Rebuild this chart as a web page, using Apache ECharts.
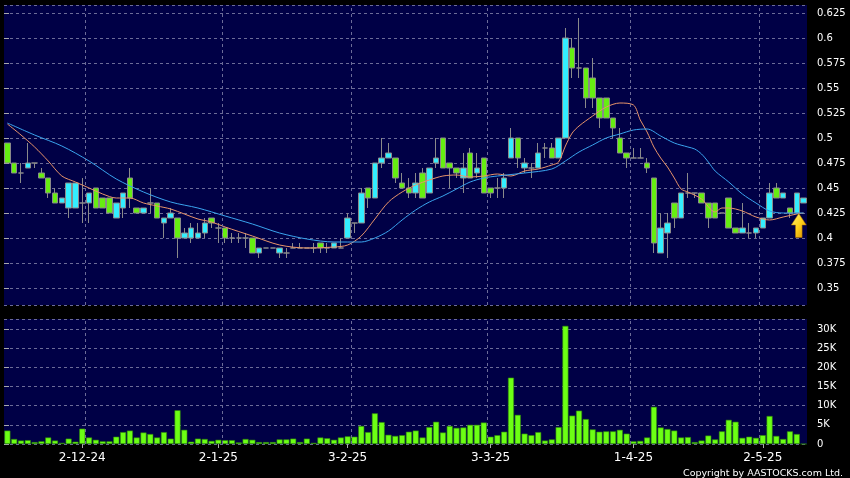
<!DOCTYPE html>
<html><head><meta charset="utf-8">
<script src="https://cdn.jsdelivr.net/npm/echarts@6/dist/echarts.min.js"></script>
<style>html,body{margin:0;padding:0;background:#000;}#c{width:850px;height:478px;}</style>
</head><body><div id="c"></div>
<script>
const dates = [
'14-11-24','15-11-24','18-11-24','19-11-24','20-11-24','21-11-24','22-11-24','25-11-24','26-11-24','27-11-24','28-11-24','29-11-24',
'2-12-24','3-12-24','4-12-24','5-12-24','6-12-24','9-12-24','10-12-24','11-12-24','12-12-24','13-12-24','16-12-24','17-12-24','18-12-24','19-12-24','20-12-24','23-12-24','24-12-24','27-12-24','30-12-24','31-12-24',
'2-1-25','3-1-25','6-1-25','7-1-25','8-1-25','9-1-25','10-1-25','13-1-25','14-1-25','15-1-25','16-1-25','17-1-25','20-1-25','21-1-25','22-1-25','23-1-25','24-1-25','27-1-25','28-1-25',
'3-2-25','4-2-25','5-2-25','6-2-25','7-2-25','10-2-25','11-2-25','12-2-25','13-2-25','14-2-25','17-2-25','18-2-25','19-2-25','20-2-25','21-2-25','24-2-25','25-2-25','26-2-25','27-2-25','28-2-25',
'3-3-25','4-3-25','5-3-25','6-3-25','7-3-25','10-3-25','11-3-25','12-3-25','13-3-25','14-3-25','17-3-25','18-3-25','19-3-25','20-3-25','21-3-25','24-3-25','25-3-25','26-3-25','27-3-25','28-3-25','31-3-25',
'1-4-25','2-4-25','3-4-25','7-4-25','8-4-25','9-4-25','10-4-25','11-4-25','14-4-25','15-4-25','16-4-25','17-4-25','22-4-25','23-4-25','24-4-25','25-4-25','28-4-25','29-4-25','30-4-25',
'2-5-25','6-5-25','7-5-25','8-5-25','9-5-25','12-5-25','13-5-25'];

const openP = [
.495,.475,.465,.47,.475,.465,.46,.445,.435,.43,
.43,.435,.435,.45,.44,.44,.42,.43,.46,.43,
.425,.435,.435,.415,.42,.42,.40,.40,.40,.405,
.42,.41,.41,.40,.40,.40,.40,.385,.39,.39,
.385,.385,.39,.39,.39,.39,.395,.39,.39,.39,
.40,.415,.415,.45,.44,.475,.48,.48,.455,.45,
.445,.465,.445,.475,.50,.475,.47,.46,.485,.465,
.48,.45,.45,.45,.48,.50,.47,.47,.47,.49,
.49,.48,.50,.59,.57,.57,.56,.54,.54,.52,
.50,.485,.48,.48,.475,.46,.385,.405,.435,.42,
.445,.445,.445,.435,.435,.425,.44,.41,.405,.405,
.405,.41,.42,.45,.44,.43,.425,.435];
const closeP = [
.475,.465,.465,.475,.475,.46,.445,.435,.44,.455,
.455,.435,.445,.43,.43,.425,.435,.445,.44,.425,
.43,.435,.42,.42,.425,.40,.405,.41,.405,.415,
.415,.41,.40,.40,.40,.40,.385,.39,.39,.39,
.39,.385,.39,.39,.39,.39,.39,.39,.395,.39,
.42,.415,.445,.44,.475,.48,.485,.46,.45,.445,
.455,.44,.47,.48,.47,.47,.465,.47,.46,.47,
.445,.445,.45,.46,.50,.48,.475,.47,.485,.49,
.48,.50,.60,.57,.57,.54,.54,.52,.52,.51,
.485,.48,.48,.48,.47,.395,.41,.415,.42,.445,
.445,.445,.435,.42,.42,.425,.41,.405,.41,.405,
.41,.42,.445,.44,.445,.425,.445,.44];
const lowP = [
.475,.465,.455,.47,.47,.46,.44,.435,.435,.42,
.43,.415,.415,.43,.43,.425,.42,.42,.43,.425,
.425,.425,.42,.40,.42,.38,.40,.395,.40,.40,
.41,.395,.395,.395,.395,.39,.385,.38,.39,.39,
.38,.38,.39,.39,.39,.385,.385,.385,.39,.39,
.40,.405,.415,.43,.44,.47,.48,.455,.45,.44,
.44,.44,.445,.47,.47,.45,.46,.445,.46,.46,
.445,.44,.44,.44,.48,.47,.465,.46,.47,.48,
.48,.48,.50,.56,.56,.53,.53,.51,.52,.50,
.485,.47,.48,.48,.465,.385,.385,.38,.41,.42,
.44,.44,.435,.41,.42,.425,.41,.405,.405,.40,
.40,.41,.42,.44,.44,.42,.425,.435];
const highP = [
.495,.475,.475,.495,.475,.47,.46,.45,.44,.455,
.455,.46,.445,.45,.44,.44,.435,.445,.47,.43,
.43,.45,.435,.42,.43,.42,.41,.415,.415,.42,
.42,.415,.41,.405,.405,.405,.40,.39,.39,.39,
.39,.39,.395,.395,.39,.395,.395,.395,.395,.40,
.425,.415,.45,.45,.475,.50,.495,.48,.465,.46,
.465,.47,.47,.50,.50,.475,.47,.485,.49,.485,
.48,.45,.46,.465,.51,.50,.48,.475,.495,.495,
.495,.50,.61,.60,.62,.57,.58,.54,.54,.52,
.51,.485,.49,.49,.48,.46,.425,.425,.435,.445,
.465,.445,.445,.435,.435,.425,.44,.41,.435,.415,
.41,.42,.455,.455,.445,.43,.445,.44];
const volume = [
3500,1300,900,1000,500,700,1700,900,300,1400,
600,4000,1700,1100,700,700,1900,3100,3500,1700,
3000,2600,1700,3100,1400,8800,3700,600,1400,1300,
800,1100,1000,1000,400,1300,1100,500,500,500,
1200,1200,1400,500,1400,300,1700,1500,1100,1700,
2000,1900,4700,3100,8000,5700,2400,2100,2300,3200,
3500,1700,4400,5800,3000,4700,4200,4300,5000,5000,
5600,1900,2300,3200,17300,7600,2700,2300,3100,900,
1200,4400,30800,7400,8700,6500,3800,3200,3300,3300,
3700,2700,700,800,1700,9700,4300,3900,3500,1700,
1800,500,900,2200,1200,3300,6300,5800,1600,1900,
1600,2300,7300,2100,1300,3300,2600,0];
// moving averages: [day index, value]
const maShort = [[0,.514],[2,.503],[4,.491],[6,.477],[8,.462],[10,.456],[12,.450],[14,.444],[16,.440],[18,.440],[20,.435],[22,.432],[24,.429],[26,.424],[28,.419],[30,.416],[32,.411],[36,.402],[40,.393],[44,.390],[48,.391],[50,.393],[52,.402],[54,.419],[56,.436],[58,.446],[60,.453],[62,.458],[64,.462],[66,.463],[68,.461],[70,.462],[72,.464],[74,.462],[76,.467],[78,.469],[80,.473],[81,.476],[82,.492],[83,.505],[84,.512],[86,.522],[88,.531],[90,.535],[92,.533],[93,.518],[94,.506],[95,.491],[96,.480],[97,.471],[98,.460],[99,.449],[100,.446],[102,.439],[104,.426],[105,.430],[106,.430],[108,.427],[110,.421],[112,.418],[114,.421],[116,.424],[117,.425]];
const maLong = [[0,.515],[4,.503],[8,.492],[12,.477],[16,.459],[20,.446],[24,.436],[28,.430],[32,.422],[36,.414],[40,.405],[44,.399],[48,.396],[52,.396],[54,.400],[56,.407],[58,.418],[60,.428],[62,.436],[64,.442],[66,.449],[68,.456],[70,.460],[72,.462],[76,.465],[80,.469],[82,.477],[84,.486],[86,.493],[88,.500],[90,.504],[92,.508],[94,.509],[96,.502],[98,.495],[100,.491],[101,.489],[102,.484],[103,.476],[104,.467],[106,.456],[108,.444],[110,.435],[112,.427],[114,.425],[117,.425]];
const tickLabels = ['2-12-24','2-1-25','3-2-25','3-3-25','1-4-25','2-5-25'];
const tickIndex = [11,31,50,71,92,111];
const signalIndex = 116;

const monthOf = d => d.split('-')[1];
const monthStarts = dates.map((d,i)=>i).filter(i => i > 0 && monthOf(dates[i]) !== monthOf(dates[i-1]));
const gridLine = {color:'#6c6c98', type:[3,3], width:1};
const font = 'DejaVu Sans';
const monthLines = {symbol:['none','none'], silent:true, label:{show:false}, emphasis:{disabled:true},
  lineStyle:gridLine, data: monthStarts.map(i=>({xAxis:i}))};

const chart = echarts.init(document.getElementById('c'));
chart.setOption({
  backgroundColor:'#000',
  animation:false,
  title:{text:'Copyright by AASTOCKS.com Ltd.', right:2, top:464,
    textStyle:{color:'#fff', fontSize:9.5, fontWeight:'normal', fontFamily:font}},
  grid:[
    {left:4, top:5, width:803, height:300, show:true, backgroundColor:'#000046', borderWidth:0},
    {left:4, top:319, width:803, height:125, show:true, backgroundColor:'#000046', borderWidth:0}
  ],
  xAxis:[
    {type:'category', gridIndex:0, data:dates, boundaryGap:true,
      axisLine:{show:false}, axisTick:{show:false}, axisLabel:{show:false}, splitLine:{show:false}},
    {type:'category', gridIndex:1, data:dates, boundaryGap:true,
      axisLine:{show:false},
      axisTick:{show:true, alignWithLabel:true, interval:(i)=>tickIndex.includes(i), length:4, lineStyle:{color:'#aaa'}},
      axisLabel:{interval:(i)=>tickIndex.includes(i), color:'#fff', fontSize:12, fontFamily:font, margin:8,
        formatter:(v,i)=>{const k=tickIndex.indexOf(i); return k>=0?tickLabels[k]:'';}},
      splitLine:{show:false}},
    {type:'value', gridIndex:0, min:0, max:dates.length, show:false},
    {type:'value', gridIndex:1, min:0, max:dates.length, show:false}
  ],
  yAxis:[
    {type:'value', gridIndex:0, position:'right', min:0.333, max:0.633, minInterval:0.025, maxInterval:0.025, splitNumber:12,
      axisLine:{show:false}, axisTick:{show:true, length:5, lineStyle:{color:'#aaa'}},
      axisLabel:{color:'#fff', fontSize:10, fontFamily:font, margin:10, showMinLabel:false, showMaxLabel:false,
        formatter:(v)=>{const r=Math.round(v*1000); return (r%25===0)? String(r/1000):'';}},
      splitLine:{show:true, lineStyle:gridLine}},
    {type:'value', gridIndex:1, position:'right', min:0, max:32600, interval:5000,
      axisLine:{show:false}, axisTick:{show:true, length:5, lineStyle:{color:'#aaa'}},
      axisLabel:{color:'#fff', fontSize:10, fontFamily:font, margin:10, showMaxLabel:false,
        formatter:(v)=> v===0?'0':(v%5000===0? (v/1000)+'K':'')},
      splitLine:{show:true, lineStyle:gridLine}}
  ],
  series:[
    {type:'line', xAxisIndex:2, yAxisIndex:0, data:[], markLine:monthLines},
    {type:'line', xAxisIndex:3, yAxisIndex:1, data:[], markLine:monthLines},
    {type:'candlestick', xAxisIndex:0, yAxisIndex:0, barWidth:6,
      data: dates.map((d,i)=>[openP[i], closeP[i], lowP[i], highP[i]]),
      itemStyle:{color:'#33eeff', color0:'#66ee11', borderColor:'#8a8a8a', borderColor0:'#8a8a8a', borderWidth:1},
      markPoint:{silent:true, data:[{coord:[signalIndex, 0.4125], symbol:'path://M50,0 L100,48 L72,48 L72,100 L28,100 L28,48 L0,48 Z',
        symbolSize:[15,24], symbolOffset:[2,0],
        itemStyle:{color:new echarts.graphic.LinearGradient(0,0,1,1,[{offset:0,color:'#fff27a'},{offset:0.5,color:'#ffd21a'},{offset:1,color:'#d88a00'}]), borderColor:'#b07000', borderWidth:0.5},
        label:{show:false}}]}},
    {type:'line', xAxisIndex:0, yAxisIndex:0, data:maShort, showSymbol:false, smooth:0.3, connectNulls:true,
      lineStyle:{color:'#e8946a', width:1}},
    {type:'line', xAxisIndex:0, yAxisIndex:0, data:maLong, showSymbol:false, smooth:0.3, connectNulls:true,
      lineStyle:{color:'#3aa4ee', width:1}},
    {type:'bar', xAxisIndex:1, yAxisIndex:1, data:volume, barWidth:6,
      itemStyle:{color:'#6cff14', borderColor:'#2f8a0a', borderWidth:0.6}}
  ]
});
</script></body></html>
